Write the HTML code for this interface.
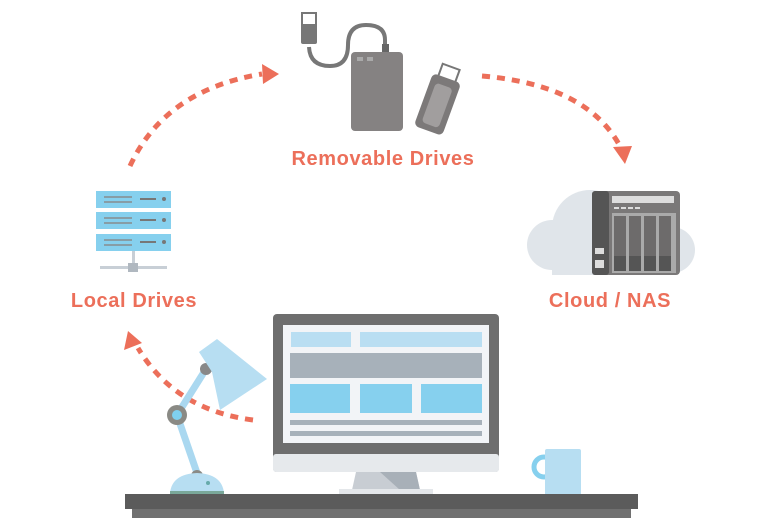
<!DOCTYPE html>
<html><head><style>
html,body{margin:0;padding:0;background:#fff;width:768px;height:518px;overflow:hidden}
svg{display:block}
text{font-family:"Liberation Sans",sans-serif;font-weight:bold;fill:#ec6f5a;font-size:20px;letter-spacing:0.6px}
</style></head><body>
<svg width="768" height="518" viewBox="0 0 768 518">
<!-- arrows -->
<g fill="none" stroke="#ec6f5a" stroke-width="5" stroke-dasharray="8 7">
<path d="M130 166 Q165 90 262 74"/>
<path d="M482 76 Q590 85 622 150"/>
<path d="M253 420 Q175 410 138 348"/>
</g>
<g fill="#ec6f5a">
<polygon points="279,74 262,64 263,84"/>
<polygon points="625,164 613,147 632,146"/>
<polygon points="128,331 124,350 142,343"/>
</g>
<!-- removable drive -->
<path d="M309 47 Q310 66 330 66 Q348 66 348 45 Q348 25 366 25 Q385 25 385 40 L385 48" fill="none" stroke="#777" stroke-width="4"/>
<rect x="302" y="13" width="14" height="12" fill="#fff" stroke="#777" stroke-width="2"/>
<rect x="301" y="24" width="16" height="20" rx="2" fill="#777"/>
<rect x="382" y="44" width="7" height="9" fill="#666"/>
<rect x="351" y="52" width="52" height="79" rx="4" fill="#858282"/>
<rect x="357" y="57" width="6" height="4" fill="#aaa"/><rect x="367" y="57" width="6" height="4" fill="#aaa"/>
<g transform="rotate(20 437 100)">
<rect x="430" y="64" width="18" height="14" fill="#fff" stroke="#777" stroke-width="2"/>
<rect x="424" y="76" width="30" height="56" rx="5" fill="#7c7979"/>
<rect x="430" y="84" width="18" height="42" rx="4" fill="#a19e9e"/>
</g>
<text x="383" y="165" text-anchor="middle">Removable Drives</text>
<!-- server -->
<g fill="#86d0ee">
<rect x="96" y="191" width="75" height="17"/><rect x="96" y="212" width="75" height="17"/><rect x="96" y="234" width="75" height="17"/>
</g>
<g fill="#777">
<rect x="140" y="198" width="16" height="2"/><circle cx="164" cy="199" r="2"/>
<rect x="140" y="219" width="16" height="2"/><circle cx="164" cy="220" r="2"/>
<rect x="140" y="241" width="16" height="2"/><circle cx="164" cy="242" r="2"/>
</g>
<g fill="#888" opacity=".7">
<rect x="104" y="196" width="28" height="2"/><rect x="104" y="201" width="28" height="2"/>
<rect x="104" y="217" width="28" height="2"/><rect x="104" y="222" width="28" height="2"/>
<rect x="104" y="239" width="28" height="2"/><rect x="104" y="244" width="28" height="2"/>
</g>
<rect x="132" y="251" width="3" height="15" fill="#c8cfd6"/>
<rect x="100" y="266" width="67" height="3" fill="#c8cfd6"/>
<rect x="128" y="263" width="10" height="9" fill="#b0b8c0"/>
<text x="134" y="307" text-anchor="middle">Local Drives</text>
<!-- cloud NAS -->
<g fill="#e0e5ea">
<circle cx="552" cy="245" r="25"/><circle cx="590" cy="228" r="38"/><circle cx="672" cy="250" r="23"/>
<rect x="552" y="240" width="120" height="35"/>
</g>
<rect x="592" y="191" width="88" height="84" rx="4" fill="#7a7878"/>
<rect x="592" y="191" width="17" height="84" rx="3" fill="#555"/>
<rect x="612" y="196" width="62" height="7" fill="#ddd"/>
<g fill="#ddd"><rect x="614" y="207" width="5" height="2"/><rect x="621" y="207" width="5" height="2"/><rect x="628" y="207" width="5" height="2"/><rect x="635" y="207" width="5" height="2"/></g>
<rect x="612" y="213" width="64" height="60" fill="#aaa"/>
<g fill="#6d6b6b"><rect x="614" y="216" width="12" height="55"/><rect x="629" y="216" width="12" height="55"/><rect x="644" y="216" width="12" height="55"/><rect x="659" y="216" width="12" height="55"/></g>
<g fill="#555"><rect x="614" y="256" width="12" height="15"/><rect x="629" y="256" width="12" height="15"/><rect x="644" y="256" width="12" height="15"/><rect x="659" y="256" width="12" height="15"/></g>
<rect x="595" y="248" width="9" height="6" fill="#ddd"/><rect x="595" y="260" width="9" height="8" fill="#ddd"/>
<text x="610" y="307" text-anchor="middle">Cloud / NAS</text>
<!-- monitor -->
<polygon points="356,472 416,472 420,490 352,490" fill="#c8cdd3"/>
<polygon points="380,472 416,472 420,490 400,490" fill="#a8b0b8"/>
<rect x="339" y="489" width="94" height="5" fill="#e4e7ea"/>
<rect x="273" y="314" width="226" height="158" rx="4" fill="#6e6e6e"/>
<rect x="273" y="454" width="226" height="18" rx="3" fill="#e6e9ec"/>
<rect x="283" y="325" width="206" height="118" fill="#f2f4f7"/>
<rect x="291" y="332" width="60" height="15" fill="#b9def2"/>
<rect x="360" y="332" width="122" height="15" fill="#b9def2"/>
<rect x="290" y="353" width="192" height="25" fill="#a7b1ba"/>
<rect x="290" y="384" width="60" height="29" fill="#86d0ee"/>
<rect x="360" y="384" width="52" height="29" fill="#86d0ee"/>
<rect x="421" y="384" width="61" height="29" fill="#86d0ee"/>
<rect x="290" y="420" width="192" height="5" fill="#a7b1ba"/>
<rect x="290" y="431" width="192" height="5" fill="#a7b1ba"/>
<!-- lamp -->
<line x1="177" y1="415" x2="197" y2="473" stroke="#aad8f0" stroke-width="7"/>
<line x1="177" y1="415" x2="206" y2="369" stroke="#aad8f0" stroke-width="7"/>
<circle cx="206" cy="369" r="6" fill="#888"/>
<polygon points="199,352 217,339 267,379 220,410 212,372" fill="#b7def2"/>
<circle cx="197" cy="476" r="6" fill="#8a8a85"/>
<path d="M170 493 Q172 474 197 473 Q222 474 224 493 Z" fill="#b7def2"/>
<rect x="170" y="491" width="54" height="3" fill="#7aa89a"/>
<circle cx="208" cy="483" r="2" fill="#6aa"/>
<circle cx="177" cy="415" r="10" fill="#8a8a85"/>
<circle cx="177" cy="415" r="5" fill="#7fd0ef"/>
<!-- mug -->
<circle cx="544" cy="467" r="10" fill="none" stroke="#86d0ee" stroke-width="5"/>
<rect x="545" y="449" width="36" height="47" rx="2" fill="#b7def2"/>
<!-- desk -->
<rect x="125" y="494" width="513" height="15" fill="#5b5b5b"/>
<rect x="132" y="509" width="499" height="9" fill="#707070"/>
</svg>
</body></html>
